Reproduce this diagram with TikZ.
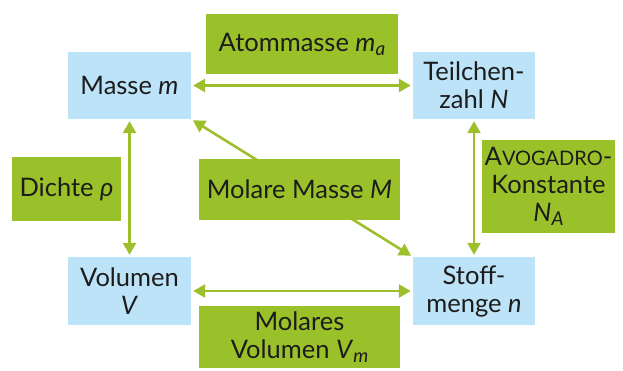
\documentclass[tikz,border=0pt]{standalone}
\usepackage{fontspec}
\setmainfont{Lato}
\usetikzlibrary{arrows.meta}
\definecolor{bluebox}{HTML}{BDE3F8}
\definecolor{greenbox}{HTML}{9BC12A}
\definecolor{arrowgreen}{HTML}{9CBF2B}
\definecolor{textdark}{HTML}{1C1C1C}
\tikzset{
  qty/.style={fill=bluebox, draw=none, align=center, inner sep=0pt, text=textdark,
    font=\fontsize{25.5}{28}\selectfont},
  rel/.style={fill=greenbox, draw=none, align=center, inner sep=0pt, text=textdark,
    font=\fontsize{25.5}{28}\selectfont},
  conn/.style={draw=arrowgreen, line width=2.6pt, {Triangle[length=12pt,width=13pt]}-{Triangle[length=12pt,width=13pt]}, shorten >=2pt, shorten <=2pt}
}
\newcommand{\sbs}[1]{\raisebox{-0.3ex}{\fontsize{19}{20}\selectfont\itshape #1}}
\begin{document}
\begin{tikzpicture}[x=1pt,y=-1pt]
\useasboundingbox (0,0) rectangle (623,370);
\node[qty, minimum width=123pt, minimum height=67pt] (masse) at (129.5,85.5) {Masse \textit{m}};
\node[qty, minimum width=122pt, minimum height=67pt] (teil) at (474,85.5) {Teilchen-\\zahl \textit{N}};
\node[qty, minimum width=123pt, minimum height=68pt] (vol) at (129.5,291) {Volumen\\\textit{V}};
\node[qty, minimum width=122pt, minimum height=68pt] (stoff) at (474,291) {Stoff-\\menge \textit{n}};
\draw[conn] (masse.east) -- (teil.west);
\draw[conn] (vol.east) -- (stoff.west);
\draw[conn] (masse.south) -- (vol.north);
\draw[conn] (teil.south) -- (stoff.north);
\draw[conn] (masse.south east) -- (stoff.north west);
\node[rel, minimum width=192pt, minimum height=60pt] (atom) at (302,44) {Atommasse \textit{m}\sbs{a}};
\node[rel, minimum width=109pt, minimum height=64pt] (dichte) at (66.5,189) {Dichte \textit{ρ}};
\node[rel, minimum width=201pt, minimum height=61pt] (molm) at (299.5,189.5) {Molare Masse \textit{M}};
\node[rel, minimum width=133pt, minimum height=93pt] (avo) at (548.5,186.5) {A{\fontsize{20}{22}\selectfont VOGADRO}-\\Konstante\\\textit{N}\sbs{A}};
\node[rel, minimum width=201pt, minimum height=62pt] (molv) at (299.5,337) {Molares\\Volumen \textit{V}\sbs{m}};
\end{tikzpicture}
\end{document}
